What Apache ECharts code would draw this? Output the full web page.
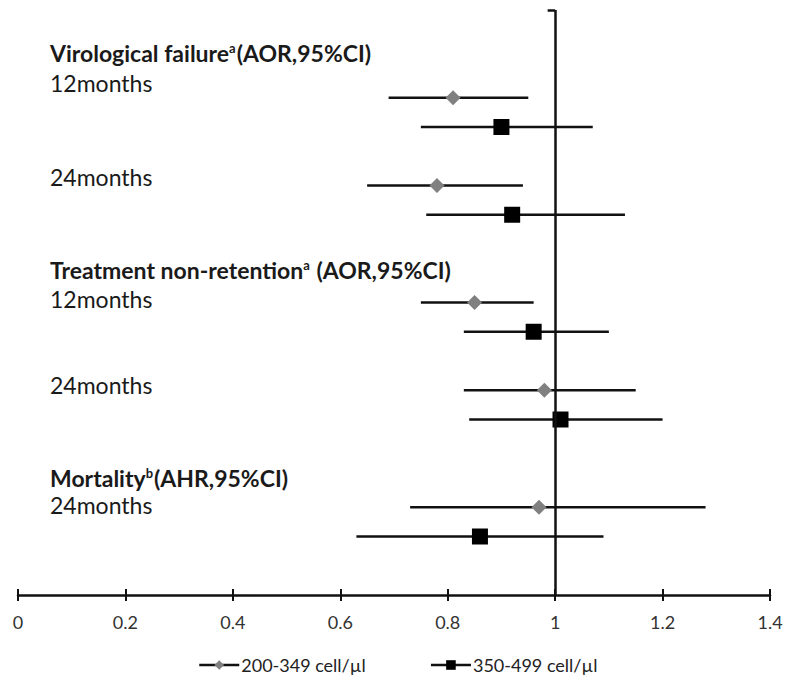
<!DOCTYPE html>
<html><head><meta charset="utf-8">
<script src="https://cdn.jsdelivr.net/npm/echarts@6/dist/echarts.min.js"></script>
<style>html,body{margin:0;padding:0;background:#fff}#c{width:788px;height:679px}</style>
</head><body><div id="c"></div>
<script>
// ---- data ----
const seriesNames = ['200-349 cell/µl', '350-499 cell/µl'];
const outcomes = ['Virological failure 12months', 'Virological failure 24months',
  'Treatment non-retention 12months', 'Treatment non-retention 24months', 'Mortality 24months'];
const rowsA = [0, 3, 7, 10, 14];      // row index of 200-349 estimates
const rowsB = [1, 4, 8, 11, 15];      // row index of 350-499 estimates
const estA  = [0.81, 0.78, 0.85, 0.98, 0.97];
const lowA  = [0.69, 0.65, 0.75, 0.83, 0.73];
const highA = [0.95, 0.94, 0.96, 1.15, 1.28];
const estB  = [0.90, 0.92, 0.96, 1.01, 0.86];
const lowB  = [0.75, 0.76, 0.83, 0.84, 0.63];
const highB = [1.07, 1.13, 1.10, 1.20, 1.09];
const xTicks = [0, 0.2, 0.4, 0.6, 0.8, 1, 1.2, 1.4];
const refValue = 1;

// ---- chart ----
const FONT = 'Lato';
const chart = echarts.init(document.getElementById('c'), null, {renderer: 'svg'});
const ptsA = estA.map((v, i) => [v, rowsA[i]]);
const ptsB = estB.map((v, i) => [v, rowsB[i]]);
const bars = [];
lowA.forEach((v, i) => bars.push([v, highA[i], rowsA[i]]));
lowB.forEach((v, i) => bars.push([v, highB[i], rowsB[i]]));

function head(x, y, a, b, sup) {
  return {type: 'text', x: x, y: y, silent: true,
    style: {text: '{b|' + a + '}{s|' + sup + '}{b|' + b + '}', textVerticalAlign: 'middle', fill: '#111',
      rich: {b: {fontFamily: FONT, fontWeight: 'bold', fontSize: 23, fill: '#1a1a1a'},
             s: {fontFamily: FONT, fontWeight: 'bold', fontSize: 13, fill: '#1a1a1a', padding: [0, 1, 11, 0]}}}};
}
function sub(x, y, t) {
  return {type: 'text', x: x, y: y, silent: true,
    style: {text: t, textVerticalAlign: 'middle', fontFamily: FONT, fontSize: 23, fill: '#1a1a1a'}};
}
const axisCommon = {
  type: 'value', min: xTicks[0], max: xTicks[xTicks.length - 1], interval: 0.2,
  position: 'bottom', splitLine: {show: false}
};

chart.setOption({
  animation: false,
  grid: {left: 18, right: 18, top: 10, bottom: 84},
  xAxis: [Object.assign({}, axisCommon, {
    axisLine: {show: true, onZero: false, lineStyle: {color: '#111', width: 2.5}},
    axisTick: {show: true, inside: false, length: 6, lineStyle: {color: '#111', width: 2}},
    axisLabel: {fontFamily: FONT, fontSize: 18, color: '#333', margin: 18}
  }), Object.assign({}, axisCommon, {
    axisLine: {show: false, onZero: false},
    axisTick: {show: true, inside: true, length: 6, lineStyle: {color: '#111', width: 2}},
    axisLabel: {show: false}
  })],
  yAxis: {type: 'value', min: -3, max: 17, inverse: true, show: false},
  legend: {
    top: 656, left: 198, padding: 0, itemWidth: 40, itemHeight: 12, itemGap: 64,
    data: seriesNames,
    textStyle: {fontFamily: FONT, fontSize: 18, color: '#222', padding: [0, 0, 0, -3]},
    lineStyle: {color: '#111', width: 2.5, opacity: 1}
  },
  graphic: [
    head(50, 53, 'Virological failure', '(AOR,95%CI)', 'a'),
    sub(50, 83, '12months'),
    sub(50, 177, '24months'),
    head(50, 270, 'Treatment non-retention', ' (AOR,95%CI)', 'a'),
    sub(50, 299, '12months'),
    sub(50, 385, '24months'),
    head(50, 478, 'Mortality', '(AHR,95%CI)', 'b'),
    sub(50, 505, '24months')
  ],
  series: [{
    type: 'custom', name: 'CI', silent: true, z: 2,
    data: bars, encode: {x: [0, 1], y: 2},
    renderItem: function (params, api) {
      const p1 = api.coord([api.value(0), api.value(2)]);
      const p2 = api.coord([api.value(1), api.value(2)]);
      return {type: 'line', shape: {x1: p1[0], y1: p1[1], x2: p2[0], y2: p2[1]},
        style: {stroke: '#111', lineWidth: 2.5}};
    },
    markLine: {
      silent: true, symbol: ['none', 'none'], label: {show: false},
      lineStyle: {color: '#111', width: 2.5, type: 'solid'},
      data: [{xAxis: refValue}, [{coord: [0.986, -3]}, {coord: [refValue, -3]}]]
    }
  }, {
    type: 'line', name: seriesNames[0], data: ptsA, z: 3,
    symbol: 'diamond', symbolSize: 15, showSymbol: true,
    itemStyle: {color: '#808080', borderWidth: 0},
    lineStyle: {width: 0, opacity: 0}
  }, {
    type: 'line', name: seriesNames[1], data: ptsB, z: 3,
    symbol: 'rect', symbolSize: 16, showSymbol: true,
    itemStyle: {color: '#000', borderWidth: 0},
    lineStyle: {width: 0, opacity: 0}
  }]
});
</script></body></html>
